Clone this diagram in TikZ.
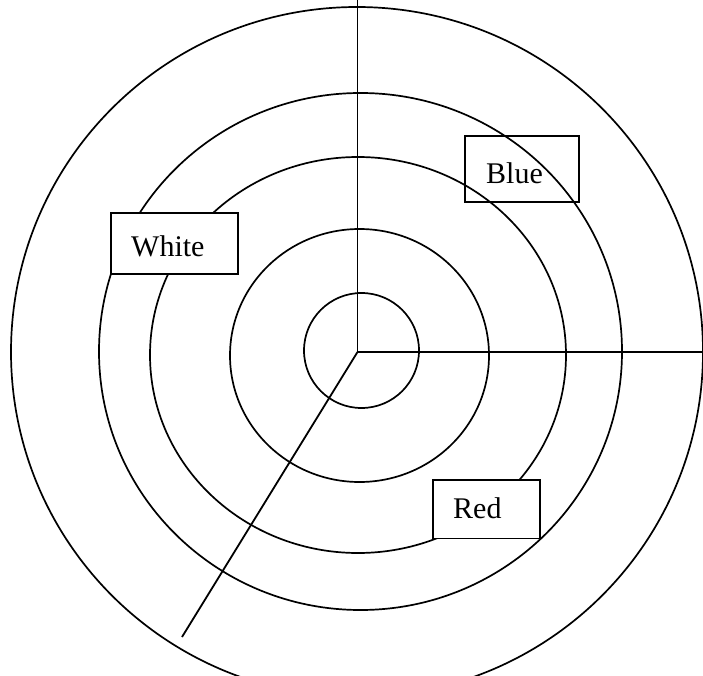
\documentclass[tikz,border=0pt]{standalone}
\usepackage{fontspec}
\setmainfont{Liberation Serif}
\usetikzlibrary{shapes.geometric}
\tikzset{
  ring/.style={draw, ellipse, inner sep=0pt, line width=1.7pt},
  spoke/.style={draw, line width=1.8pt},
  tagbox/.style={draw, rectangle, inner sep=0pt, line width=1.7pt},
  tagtext/.style={inner sep=0pt, anchor=base west, font=\fontsize{30}{36}\selectfont}
}
\begin{document}
\begin{tikzpicture}[x=1pt,y=-1pt]
\useasboundingbox (0,0) rectangle (703,676);
% rings
\node[ring, minimum width=692pt, minimum height=690pt] (outer) at (357,352) {};
\node[ring, minimum width=523pt, minimum height=517pt] (ring4) at (360.5,351.5) {};
\node[ring, minimum width=416pt, minimum height=396pt] (ring3) at (358,355) {};
\node[ring, minimum width=259pt, minimum height=253pt] (ring2) at (359.5,355.5) {};
\node[ring, minimum width=115pt, minimum height=115pt] (inner) at (361.5,350.5) {};
% spokes
\coordinate (c) at (357.5,352);
\coordinate (up) at (357.5,0);
\coordinate (right) at (703,352);
\coordinate (down) at (182,637);
\draw[spoke] (c) -- (up);
\draw[spoke] (c) -- (right);
\draw[spoke] (c) -- (down);
% labels
\node[tagbox, minimum width=114pt, minimum height=66pt] (blue) at (522,169) {};
\node[tagtext] (blueT) at (486,183.3) {Blue};
\node[tagbox, fill=white, minimum width=127.6pt, minimum height=60.7pt] (white) at (174.5,243.6) {};
\node[tagtext] (whiteT) at (131,256.7) {White};
\node[tagbox, fill=white, minimum width=107.3pt, minimum height=58.3pt] (red) at (486.3,509.2) {};
\node[tagtext] (redT) at (453,518) {Red};
\end{tikzpicture}
\end{document}
